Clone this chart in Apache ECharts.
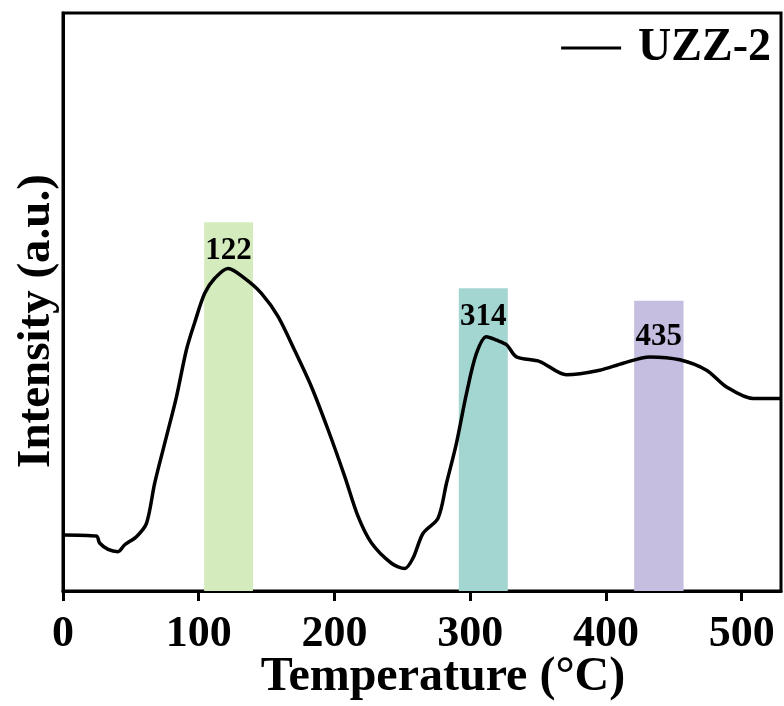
<!DOCTYPE html>
<html>
<head>
<meta charset="utf-8">
<script src="https://cdn.jsdelivr.net/npm/echarts@6/dist/echarts.min.js"></script>
<style>html,body{margin:0;padding:0;background:#fff}#c{width:784px;height:706px}</style>
</head>
<body>
<div id="c"></div>
<script>
// Temperature (°C) and intensity (a.u.)
const temps = [0, 24.6, 27, 33.2, 40.5, 45.5, 54.1, 61.5, 67.6, 76.2, 83.6, 90.9, 97.1, 104.4, 111.8, 121.6, 133.9, 146.2, 158.4, 170.7, 183.1, 195.3, 207.6, 217.4, 227.3, 242, 251.8, 257.9, 265.3, 276.3, 282.5, 289.9, 297.3, 304.6, 312, 319.4, 326.8, 334.1, 351.3, 371, 395.5, 412.7, 432.3, 454.4, 474.1, 488.9, 508.5, 529];
const intensity = [9.7, 9.5, 8.3, 7.2, 6.8, 8.0, 9.4, 11.7, 18.7, 26.7, 33.6, 41.7, 46.5, 51.5, 54.1, 55.8, 54.1, 51.5, 47.5, 41.6, 35.3, 27.9, 19.8, 12.9, 8.3, 4.8, 3.9, 5.7, 10.0, 12.6, 18.6, 25.6, 34.2, 41.1, 44.0, 43.4, 42.6, 40.5, 39.7, 37.4, 38.2, 39.4, 40.5, 40.0, 38.2, 35.3, 33.3, 33.3];
const seriesName = 'UZZ-2';
const xTicks = [0, 100, 200, 300, 400, 500];
// Highlighted bands
const peakLabels = ['122', '314', '435'];
const bandStart = [104, 291.6, 420.8];
const bandEnd = [140, 327.7, 457.2];
const bandTop = [63.8, 52.4, 50.2];
const bandColors = ['#d4ecbd', '#a3d5d1', '#c5bee1'];

const font = '"Liberation Serif", "Times New Roman", serif';
const chart = echarts.init(document.getElementById('c'));
const labelOffsets = [28, 28, 36];
const areas = peakLabels.map((lab, i) => [
  { xAxis: bandStart[i], yAxis: 0, itemStyle: { color: bandColors[i] },
    label: { show: true, formatter: lab, position: 'insideTop', distance: 0, offset: [0, labelOffsets[i] - 15],
      color: '#000', fontFamily: font, fontWeight: 'bold', fontSize: 31 } },
  { xAxis: bandEnd[i], yAxis: bandTop[i] }
]);
chart.setOption({
  animation: false,
  grid: { left: 63, right: 3, top: 13, bottom: 115, outerBoundsMode: 'none', containLabel: false,
    show: true, borderColor: '#000', borderWidth: 3, backgroundColor: 'transparent' },
  legend: {
    data: [seriesName], right: 8, top: 20, itemWidth: 60, itemHeight: 3, itemGap: 16, icon: 'rect',
    itemStyle: { color: '#000' },
    textStyle: { fontFamily: font, fontWeight: 'bold', fontSize: 46, color: '#000', padding: [0, 0, 0, 12] }
  },
  xAxis: {
    type: 'value', min: 0, max: 529, interval: 100,
    name: 'Temperature (°C)', nameLocation: 'middle', nameGap: 63, nameMoveOverlap: false,
    nameTextStyle: { fontFamily: font, fontWeight: 'bold', fontSize: 48, color: '#000', padding: [0, 0, 0, 42] },
    axisLine: { lineStyle: { color: '#000', width: 3 } },
    axisTick: { show: true, inside: false, length: 10, lineStyle: { color: '#000', width: 3 } },
    axisLabel: { showMaxLabel: false, margin: 22, fontFamily: font, fontWeight: 'bold', fontSize: 44, color: '#000',
      formatter: v => xTicks.includes(v) ? String(v) : '' },
    splitLine: { show: false }
  },
  yAxis: {
    type: 'value', min: 0, max: 100,
    name: 'Intensity (a.u.)', nameLocation: 'middle', nameGap: 3, nameMoveOverlap: false,
    nameTextStyle: { fontFamily: font, fontWeight: 'bold', fontSize: 47, color: '#000', padding: [0, 38, 0, 0] },
    axisLine: { show: true, lineStyle: { color: '#000', width: 3 } },
    axisTick: { show: false }, axisLabel: { show: false }, splitLine: { show: false }
  },
  series: [{
    name: seriesName, type: 'line', symbol: 'none', smooth: 0.3,
    data: temps.map((t, i) => [t, intensity[i]]),
    lineStyle: { color: '#000', width: 3.5 }, itemStyle: { color: '#000' },
    markArea: { silent: true, data: areas },
    z: 3
  }]
});
</script>
</body>
</html>
